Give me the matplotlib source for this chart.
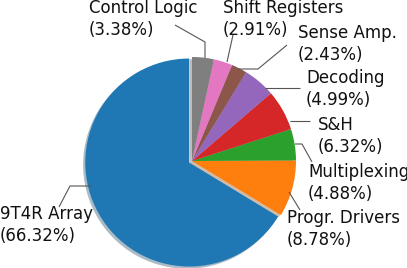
import matplotlib
matplotlib.use("Agg")
import matplotlib.pyplot as plt

# ---- data ----
labels = ["9T4R Array", "Progr. Drivers", "Multiplexing", "S&H", "Decoding",
          "Sense Amp.", "Shift Registers", "Control Logic"]
shares = [66.32, 8.78, 4.88, 6.32, 4.99, 2.43, 2.91, 3.38]
colors = ["#1f77b4", "#ff7f0e", "#2ca02c", "#d62728", "#9467bd",
          "#8c564b", "#e377c2", "#7f7f7f"]
explode = [0.03, 0, 0, 0, 0, 0, 0, 0]

# ---- layout (pixels in a 407x268 canvas, origin top-left) ----
W, H = 407, 268
CX, CY, R = 192, 161, 104
text_pos = {
    "9T4R Array": (0, 205),
    "Progr. Drivers": (287, 209),
    "Multiplexing": (308, 163),
    "S&H": (318, 116),
    "Decoding": (306, 69),
    "Sense Amp.": (298, 24),
    "Shift Registers": (223, -1),
    "Control Logic": (89, -1),
}
leaders = {
    "9T4R Array": [(92, 186), (70, 186), (59, 207)],
    "Progr. Drivers": [(289, 192), (300, 210)],
    "Multiplexing": [(295, 144), (302, 144), (312, 162)],
    "S&H": [(290, 121), (310, 121)],
    "Decoding": [(265, 88), (300, 88)],
    "Sense Amp.": [(238, 69), (258, 69), (287, 45)],
    "Shift Registers": [(227, 62), (233, 35)],
    "Control Logic": [(205, 58), (205, 42), (175, 25)],
}


def d(x, y):
    return (x - CX) / R, (CY - y) / R


fig = plt.figure(figsize=(W / 100, H / 100), dpi=100)
ax = fig.add_axes([0, 0, 1, 1])
ax.pie(shares, colors=colors, explode=explode, startangle=90,
       counterclock=True,
       shadow=dict(ox=-0.015, oy=-0.015, shade=0.5, alpha=0.35),
       radius=1.0, wedgeprops=dict(linewidth=0))
ax.set_xlim(-CX / R, (W - CX) / R)
ax.set_ylim((CY - H) / R, CY / R)
ax.set_aspect("equal")
ax.axis("off")

for lab, val in zip(labels, shares):
    tx, ty = text_pos[lab]
    x, y = d(tx, ty)
    ax.text(x, y, f"{lab}\n({val:.2f}%)", ha="left", va="top",
            fontsize=12, color="#111111", family="DejaVu Sans",
            linespacing=1.28)
    pts = [d(px, py) for px, py in leaders[lab]]
    ax.plot([p[0] for p in pts], [p[1] for p in pts], color="#555555",
            lw=0.8, solid_capstyle="butt")

fig.savefig("out.png", dpi=100)
